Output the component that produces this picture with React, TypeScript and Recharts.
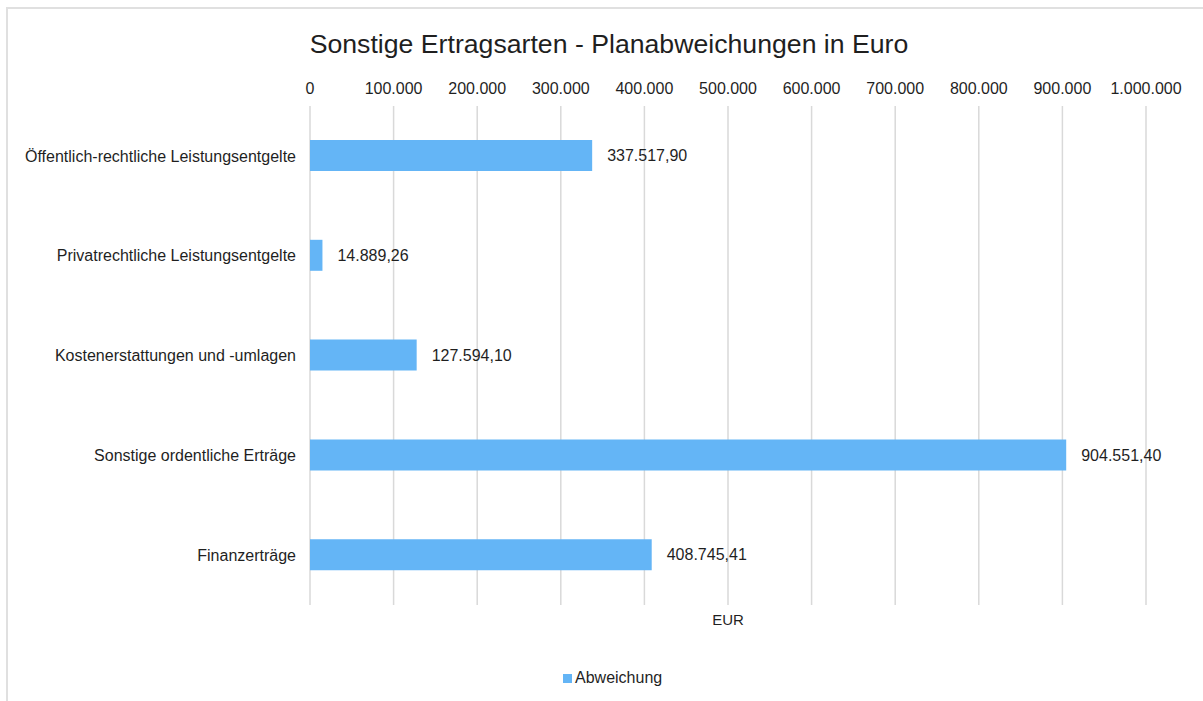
import React from "react";
import { BarChart, Bar, XAxis, YAxis, CartesianGrid, LabelList } from "recharts";

const categories = [
  "Öffentlich-rechtliche Leistungsentgelte",
  "Privatrechtliche Leistungsentgelte",
  "Kostenerstattungen und -umlagen",
  "Sonstige ordentliche Erträge",
  "Finanzerträge",
];
const abweichung = [337517.9, 14889.26, 127594.1, 904551.4, 408745.41];
const xTicks = [0, 100000, 200000, 300000, 400000, 500000, 600000, 700000, 800000, 900000, 1000000];
const seriesName = "Abweichung";
const title = "Sonstige Ertragsarten - Planabweichungen in Euro";
const axisTitle = "EUR";

const data = categories.map((name, i) => ({ name, value: abweichung[i] }));

const groupThousands = (s: string) => s.replace(/\B(?=(\d{3})+(?!\d))/g, ".");
const fmtInt = (v: number) => groupThousands(String(Math.round(v)));
const fmtDec = (v: number) => {
  const [i, d] = v.toFixed(2).split(".");
  return groupThousands(i) + "," + d;
};

const BAR_COLOR = "#64B5F6";
const TEXT = "#1f1f1f";
const FONT = "'Liberation Sans', Arial, sans-serif";

export default function App() {
  return (
    <div style={{ position: "absolute", left: 0, top: 0, width: 1203, height: 701, overflow: "hidden", background: "#fff", fontFamily: FONT }}>
      <div style={{ position: "absolute", left: 6, top: 7, width: 1300, height: 800, borderLeft: "2px solid #e0e0e0", borderTop: "2px solid #e0e0e0" }} />
      <div style={{ position: "absolute", left: 0, width: 1218, top: 28, textAlign: "center", fontSize: 26.67, color: TEXT, lineHeight: "32px", whiteSpace: "nowrap" }}>
        {title}
      </div>
      <div style={{ position: "absolute", left: 0, top: 0 }}>
        <BarChart
          width={1203}
          height={701}
          data={data}
          layout="vertical"
          margin={{ top: 71, right: 57, bottom: 96, left: 0 }}
          barCategoryGap={0}
          style={{ fontFamily: FONT }}
        >
          <CartesianGrid horizontal={false} stroke="#d9d9d9" strokeWidth={1.5} />
          <XAxis
            type="number"
            orientation="top"
            height={35}
            domain={[0, 1000000]}
            ticks={xTicks}
            tickFormatter={fmtInt}
            axisLine={false}
            tickLine={false}
            tickMargin={6}
            tick={{ fontSize: 16, fill: TEXT }}
            interval={0}
          />
          <YAxis
            type="category"
            dataKey="name"
            width={310}
            axisLine={false}
            tickLine={false}
            tickMargin={8}
            tick={{ fontSize: 16, fill: TEXT }}
            interval={0}
          />
          <Bar dataKey="value" name={seriesName} fill={BAR_COLOR} barSize={31} isAnimationActive={false}>
            <LabelList dataKey="value" position="right" offset={15} formatter={(v: any) => fmtDec(Number(v))} style={{ fontSize: 16, fill: TEXT }} />
          </Bar>
        </BarChart>
      </div>
      <div style={{ position: "absolute", left: 628, width: 200, top: 611, textAlign: "center", fontSize: 15, color: TEXT, lineHeight: "18px" }}>
        {axisTitle}
      </div>
      <div style={{ position: "absolute", left: 563, top: 668, display: "flex", alignItems: "center", fontSize: 16, color: TEXT, lineHeight: "20px", whiteSpace: "nowrap" }}>
        <span style={{ display: "inline-block", width: 9, height: 9, background: BAR_COLOR, marginRight: 3 }} />
        <span>{seriesName}</span>
      </div>
    </div>
  );
}
